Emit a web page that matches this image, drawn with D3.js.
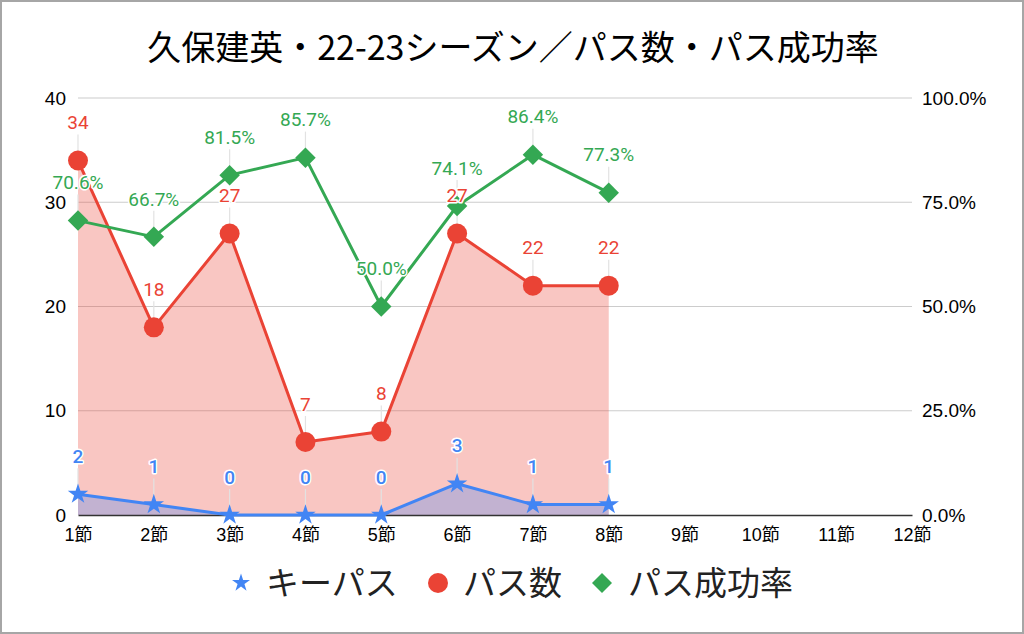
<!DOCTYPE html>
<html><head><meta charset="utf-8">
<script src="https://cdn.jsdelivr.net/npm/d3@7"></script>
<style>
html,body{margin:0;padding:0;background:#fff;}
svg{display:block;}
</style>
</head><body>
<svg id="c" width="1024" height="634"></svg>
<script>
const rounds = ["1節","2節","3節","4節","5節","6節","7節","8節","9節","10節","11節","12節"];
const keyPass = [2,1,0,0,0,3,1,1];
const passes = [34,18,27,7,8,27,22,22];
const successRate = [70.6,66.7,81.5,85.7,50.0,74.1,86.4,77.3];
const leftTicks = [0,10,20,30,40];
const rightTicks = [0,25,50,75,100];
const seriesNames = ["キーパス","パス数","パス成功率"];
const title = "久保建英・22-23シーズン／パス数・パス成功率";

const BLUE="#4285f4", RED="#ea4335", GREEN="#34a853";
const svg = d3.select("#c");
const W=1024,H=634;
const L=78,R=912,T=98,B=515;

svg.append("rect").attr("x",1).attr("y",1).attr("width",W-2).attr("height",H-2)
  .attr("fill","#fff").attr("stroke","#a6a6a6").attr("stroke-width",2);

svg.append("text").attr("x",513).attr("y",60).attr("text-anchor","middle")
  .attr("font-family","'Noto Sans CJK JP', sans-serif").attr("font-size",34)
  .attr("fill","#000").text(title);

const x = d3.scalePoint().domain(rounds).range([L,R]);
const yL = d3.scaleLinear().domain([0,40]).range([B,T]);
const yR = d3.scaleLinear().domain([0,100]).range([B,T]);

// gridlines
svg.append("g").selectAll("line").data(leftTicks.filter(d=>d>0)).join("line")
  .attr("x1",L).attr("x2",R).attr("y1",d=>yL(d)).attr("y2",d=>yL(d))
  .attr("stroke","#cccccc").attr("stroke-width",1.2);

// left axis
const axL = d3.axisLeft(yL).tickValues(leftTicks).tickSize(0).tickPadding(12).tickFormat(d3.format("d"));
const gL = svg.append("g").attr("transform",`translate(${L},0)`).call(axL);
gL.select(".domain").remove();
gL.selectAll("text").attr("font-family","'Liberation Sans', Arial, sans-serif").attr("font-size",19).attr("fill","#000");

const axR = d3.axisRight(yR).tickValues(rightTicks).tickSize(0).tickPadding(10).tickFormat(d=>d3.format(".1f")(d)+"%");
const gR = svg.append("g").attr("transform",`translate(${R},0)`).call(axR);
gR.select(".domain").remove();
gR.selectAll("text").attr("font-family","'Liberation Sans', Arial, sans-serif").attr("font-size",19).attr("fill","#000");

// areas
const idx = d3.range(passes.length);
const areaRed = d3.area().x(i=>x(rounds[i])).y0(yL(0)).y1(i=>yL(passes[i]));
svg.append("path").datum(idx).attr("d",areaRed).attr("fill",RED).attr("fill-opacity",0.3);
const areaBlue = d3.area().x(i=>x(rounds[i])).y0(yL(0)).y1(i=>yL(keyPass[i]));
svg.append("path").datum(idx).attr("d",areaBlue).attr("fill",BLUE).attr("fill-opacity",0.3);

// x axis
const axX = d3.axisBottom(x).tickSize(0).tickPadding(13);
const gX = svg.append("g").attr("transform",`translate(0,${B})`).call(axX);
gX.select(".domain").attr("stroke","#333").attr("stroke-width",1.5);
gX.selectAll("text").attr("font-family","'Liberation Sans', 'Noto Sans CJK JP', sans-serif").attr("font-size",18).attr("fill","#000");

// leader lines
function leaders(vals, yS){
  svg.append("g").selectAll("line").data(vals).join("line")
    .attr("x1",(d,i)=>x(rounds[i])).attr("x2",(d,i)=>x(rounds[i]))
    .attr("y1",d=>yS(d)-4).attr("y2",d=>yS(d)-26)
    .attr("stroke","#e2e2e2").attr("stroke-width",1.2);
}
leaders(keyPass,yL); leaders(passes,yL); leaders(successRate,yR);

// lines
function drawLine(vals,yS,color){
  const ln = d3.line().x((d,i)=>x(rounds[i])).y(d=>yS(d));
  svg.append("path").datum(vals).attr("d",ln).attr("fill","none").attr("stroke",color).attr("stroke-width",3).attr("stroke-linejoin","round");
}
drawLine(keyPass,yL,BLUE);
drawLine(passes,yL,RED);
drawLine(successRate,yR,GREEN);

// markers
const star = d3.symbol().type(d3.symbolStar).size(130);
svg.append("g").selectAll("path").data(keyPass).join("path")
  .attr("d",star).attr("transform",(d,i)=>`translate(${x(rounds[i])},${yL(d)})`).attr("fill",BLUE);
svg.append("g").selectAll("circle").data(passes).join("circle")
  .attr("cx",(d,i)=>x(rounds[i])).attr("cy",d=>yL(d)).attr("r",10).attr("fill",RED);
const sq = d3.symbol().type(d3.symbolSquare).size(210);
svg.append("g").selectAll("path").data(successRate).join("path")
  .attr("d",sq).attr("transform",(d,i)=>`translate(${x(rounds[i])},${yR(d)}) rotate(45)`).attr("fill",GREEN);

// labels
function labels(vals,yS,color,fmt,weight){
  svg.append("g").selectAll("text").data(vals).join("text")
    .attr("x",(d,i)=>x(rounds[i])).attr("y",d=>yS(d)-38).attr("dy","0.35em")
    .attr("text-anchor","middle").attr("font-family","Roboto, sans-serif").attr("font-size",19)
    .attr("font-weight",weight)
    .attr("fill",color).attr("stroke","#fff").attr("stroke-width",3).attr("paint-order","stroke")
    .attr("stroke-linejoin","round").text(fmt);
}
labels(keyPass,yL,BLUE,d=>d,500);
labels(passes,yL,RED,d=>d,400);
labels(successRate,yR,GREEN,d=>d3.format(".1f")(d)+"%",400);

// legend
const lg = svg.append("g").attr("font-family","'Noto Sans CJK JP', sans-serif").attr("font-size",33).attr("fill","#222");
const ly = 583;
lg.append("path").attr("d",d3.symbol().type(d3.symbolStar).size(100)()).attr("transform",`translate(241,${ly})`).attr("fill",BLUE);
lg.append("text").attr("x",266).attr("y",ly).attr("dy","0.36em").text(seriesNames[0]);
lg.append("circle").attr("cx",438).attr("cy",ly).attr("r",10).attr("fill",RED);
lg.append("text").attr("x",463).attr("y",ly).attr("dy","0.36em").text(seriesNames[1]);
lg.append("path").attr("d",d3.symbol().type(d3.symbolSquare).size(200)()).attr("transform",`translate(602,${ly}) rotate(45)`).attr("fill",GREEN);
lg.append("text").attr("x",628).attr("y",ly).attr("dy","0.36em").text(seriesNames[2]);
</script>
</body></html>
